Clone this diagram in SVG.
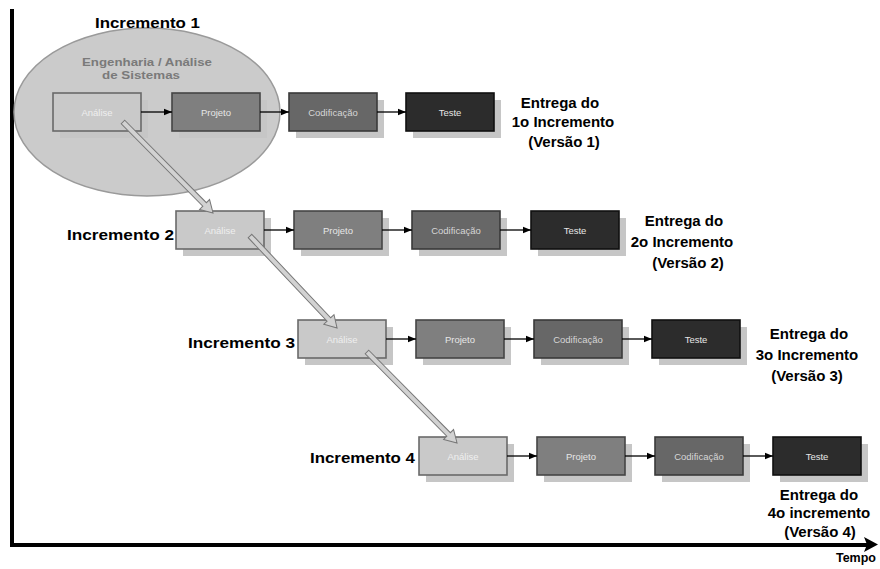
<svg xmlns="http://www.w3.org/2000/svg" width="880" height="569" viewBox="0 0 880 569">
  <style>
    .lbl { font-family: "Liberation Sans", Arial, sans-serif; font-weight: bold; font-size: 15px; fill: #000; }
    .axl { font-family: "Liberation Sans", Arial, sans-serif; font-weight: bold; font-size: 12.5px; fill: #000; text-anchor: end; }
    .sub { font-family: "Liberation Sans", Arial, sans-serif; font-weight: bold; font-size: 11px; fill: #7a7a7a; text-anchor: middle; }
    .btx { font-family: "Liberation Sans", Arial, sans-serif; font-size: 9.5px; text-anchor: middle; }
    .shadow { fill: #c6c6c6; }
    .analise .b { fill: #c9c9c9; stroke: #6a6a6a; stroke-width: 1.6; }
    .analise text { fill: #efefef; }
    .projeto .b { fill: #7f7f7f; stroke: #454545; stroke-width: 1.6; }
    .projeto text { fill: #e6e6e6; }
    .codif .b { fill: #676767; stroke: #3a3a3a; stroke-width: 1.6; }
    .codif text { fill: #d6d6d6; }
    .teste .b { fill: #2c2c2c; stroke: #111; stroke-width: 1.6; }
    .teste text { fill: #e6e6e6; }
    .flow { stroke: #000; stroke-width: 1.3; fill: none; marker-end: url(#ah); }
    .diag { fill: #d2d2d2; stroke: #777; stroke-width: 1; }
  </style>
  <defs>
    <marker id="ah" viewBox="0 0 8 8" refX="8" refY="4" markerWidth="8" markerHeight="8" markerUnits="userSpaceOnUse" orient="auto">
      <path d="M0,0.8 L8,4 L0,7.2 Z" fill="#000"/>
    </marker>
    <!-- hollow block arrow pointing along +x, 128 long -->
    <path id="blk" d="M0,-2.5 L116,-2.5 L116,-7 L128,0 L116,7 L116,2.5 L0,2.5 Z"/>
  </defs>

  <rect width="880" height="569" fill="#fff"/>

  <!-- time axes -->
  <g id="axes">
    <rect x="10" y="9" width="4" height="538" fill="#000"/>
    <rect x="10" y="543" width="860" height="4" fill="#000"/>
    <path d="M864,537 L878,544.5 L864,552 L867,544.5 Z" fill="#000"/>
    <text class="axl" x="876" y="562">Tempo</text>
  </g>

  <!-- systems engineering / analysis bubble -->
  <g id="engenharia">
    <ellipse cx="147" cy="112" rx="133" ry="84" fill="#cbcbcb" stroke="#9a9a9a" stroke-width="1.5"/>
    <text class="sub" x="147" y="66" textLength="130" lengthAdjust="spacingAndGlyphs">Engenharia / Análise</text>
    <text class="sub" x="141" y="79" textLength="78" lengthAdjust="spacingAndGlyphs">de Sistemas</text>
  </g>

  <!-- increment labels -->
  <g id="labels">
    <text class="lbl" x="95" y="28" textLength="105" lengthAdjust="spacingAndGlyphs">Incremento  1</text>
    <text class="lbl" x="67" y="240" textLength="107" lengthAdjust="spacingAndGlyphs">Incremento  2</text>
    <text class="lbl" x="188" y="348" textLength="107" lengthAdjust="spacingAndGlyphs">Incremento  3</text>
    <text class="lbl" x="310" y="463" textLength="105" lengthAdjust="spacingAndGlyphs">Incremento  4</text>
  </g>

  <!-- deliveries -->
  <g id="entregas" class="lbl" text-anchor="middle">
    <text x="560" y="108">Entrega do</text>
    <text x="563" y="127">1o Incremento</text>
    <text x="564" y="147">(Versão 1)</text>

    <text x="684" y="226">Entrega do</text>
    <text x="682" y="247">2o Incremento</text>
    <text x="688" y="268">(Versão 2)</text>

    <text x="809" y="339">Entrega do</text>
    <text x="807" y="360">3o Incremento</text>
    <text x="807" y="381">(Versão 3)</text>

    <text x="819" y="500">Entrega do</text>
    <text x="819" y="518">4o incremento</text>
    <text x="820" y="537">(Versão 4)</text>
  </g>

  <!-- increment 1 -->
  <g id="r1-analise" class="analise" transform="translate(53,93)"><rect class="shadow" x="7" y="7" width="88" height="38"/><rect class="b" width="88" height="38"/><text class="btx" x="44" y="22.5">Análise</text></g>
  <g id="r1-projeto" class="projeto" transform="translate(172,93)"><rect class="shadow" x="7" y="7" width="88" height="38"/><rect class="b" width="88" height="38"/><text class="btx" x="44" y="22.5">Projeto</text></g>
  <g id="r1-codif" class="codif" transform="translate(289,93)"><rect class="shadow" x="7" y="7" width="88" height="38"/><rect class="b" width="88" height="38"/><text class="btx" x="44" y="22.5">Codificação</text></g>
  <g id="r1-teste" class="teste" transform="translate(406,93)"><rect class="shadow" x="7" y="7" width="88" height="38"/><rect class="b" width="88" height="38"/><text class="btx" x="44" y="22.5">Teste</text></g>

  <!-- increment 2 -->
  <g id="r2-analise" class="analise" transform="translate(176,211)"><rect class="shadow" x="7" y="7" width="88" height="38"/><rect class="b" width="88" height="38"/><text class="btx" x="44" y="22.5">Análise</text></g>
  <g id="r2-projeto" class="projeto" transform="translate(294,211)"><rect class="shadow" x="7" y="7" width="88" height="38"/><rect class="b" width="88" height="38"/><text class="btx" x="44" y="22.5">Projeto</text></g>
  <g id="r2-codif" class="codif" transform="translate(412,211)"><rect class="shadow" x="7" y="7" width="88" height="38"/><rect class="b" width="88" height="38"/><text class="btx" x="44" y="22.5">Codificação</text></g>
  <g id="r2-teste" class="teste" transform="translate(531,211)"><rect class="shadow" x="7" y="7" width="88" height="38"/><rect class="b" width="88" height="38"/><text class="btx" x="44" y="22.5">Teste</text></g>

  <!-- increment 3 -->
  <g id="r3-analise" class="analise" transform="translate(298,320)"><rect class="shadow" x="7" y="7" width="88" height="38"/><rect class="b" width="88" height="38"/><text class="btx" x="44" y="22.5">Análise</text></g>
  <g id="r3-projeto" class="projeto" transform="translate(416,320)"><rect class="shadow" x="7" y="7" width="88" height="38"/><rect class="b" width="88" height="38"/><text class="btx" x="44" y="22.5">Projeto</text></g>
  <g id="r3-codif" class="codif" transform="translate(534,320)"><rect class="shadow" x="7" y="7" width="88" height="38"/><rect class="b" width="88" height="38"/><text class="btx" x="44" y="22.5">Codificação</text></g>
  <g id="r3-teste" class="teste" transform="translate(652,320)"><rect class="shadow" x="7" y="7" width="88" height="38"/><rect class="b" width="88" height="38"/><text class="btx" x="44" y="22.5">Teste</text></g>

  <!-- increment 4 -->
  <g id="r4-analise" class="analise" transform="translate(419,437)"><rect class="shadow" x="7" y="7" width="88" height="38"/><rect class="b" width="88" height="38"/><text class="btx" x="44" y="22.5">Análise</text></g>
  <g id="r4-projeto" class="projeto" transform="translate(537,437)"><rect class="shadow" x="7" y="7" width="88" height="38"/><rect class="b" width="88" height="38"/><text class="btx" x="44" y="22.5">Projeto</text></g>
  <g id="r4-codif" class="codif" transform="translate(655,437)"><rect class="shadow" x="7" y="7" width="88" height="38"/><rect class="b" width="88" height="38"/><text class="btx" x="44" y="22.5">Codificação</text></g>
  <g id="r4-teste" class="teste" transform="translate(773,437)"><rect class="shadow" x="7" y="7" width="88" height="38"/><rect class="b" width="88" height="38"/><text class="btx" x="44" y="22.5">Teste</text></g>

  <!-- connectors -->
  <g id="connectors">
    <path class="flow" d="M141,112 H172"/>
    <path class="flow" d="M260,112 H289"/>
    <path class="flow" d="M377,112 H406"/>

    <path class="flow" d="M264,230 H294"/>
    <path class="flow" d="M382,230 H412"/>
    <path class="flow" d="M500,230 H531"/>

    <path class="flow" d="M386,339 H416"/>
    <path class="flow" d="M504,339 H534"/>
    <path class="flow" d="M622,339 H652"/>

    <path class="flow" d="M507,456 H537"/>
    <path class="flow" d="M625,456 H655"/>
    <path class="flow" d="M743,456 H773"/>

    <use class="diag" href="#blk" transform="translate(123,122) rotate(45.3)"/>
    <use class="diag" href="#blk" transform="translate(250,236) rotate(46.6) scale(0.99,1)"/>
    <use class="diag" href="#blk" transform="translate(367,352) rotate(45.3)"/>
  </g>
</svg>
